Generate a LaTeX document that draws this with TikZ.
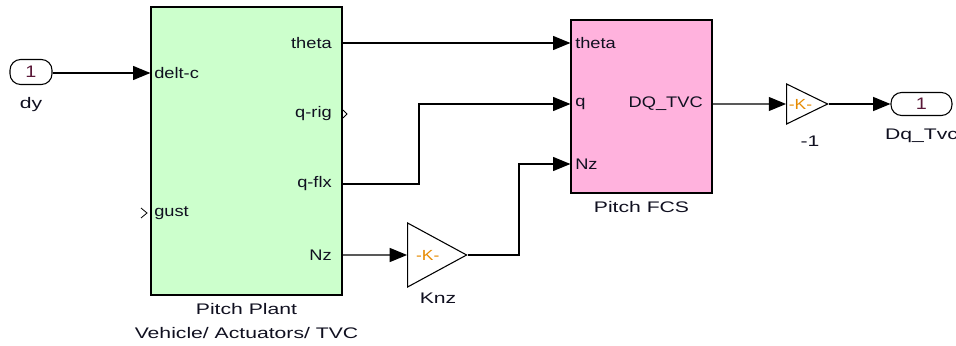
\documentclass[tikz,border=0pt]{standalone}
\usepackage{fontspec}
\setmainfont{Liberation Sans}
\newfontfamily\portfont[FakeStretch=1.19]{Liberation Sans}
\newfontfamily\namefont[FakeStretch=1.38]{Liberation Sans}
\usetikzlibrary{arrows.meta,shapes.geometric}
\definecolor{plantgreen}{HTML}{CCFFCC}
\definecolor{fcspink}{HTML}{FFB2DD}
\definecolor{gainorange}{HTML}{E68A00}
\definecolor{iored}{HTML}{5A1838}
\definecolor{txt}{HTML}{101020}
\tikzset{
  blk/.style={draw, line width=0.9pt, inner sep=0pt},
  io/.style={draw, line width=0.8pt, rounded corners=8pt, inner sep=0pt,
    font=\portfont\fontsize{12.5}{14}\selectfont, text=iored},
  gain/.style={draw, isosceles triangle, isosceles triangle stretches,
    shape border rotate=0, line width=0.8pt, inner sep=0pt,
    font=\portfont\fontsize{11}{13}\selectfont, text=gainorange},
  plabel/.style={font=\portfont\fontsize{11.5}{13}\selectfont, inner sep=0pt, text=txt},
  bname/.style={font=\namefont\fontsize{11.5}{13}\selectfont, inner sep=0pt, text=txt},
  wire/.style={line width=0.9pt, -{Triangle[length=13pt,width=10.5pt]}},
  openport/.style={line width=0.6pt},
}
\begin{document}
\begin{tikzpicture}[x=0.75pt, y=-0.75pt]
    \useasboundingbox (0,0) rectangle (956,346);
    % blocks
    \node[blk, fill=plantgreen, minimum width=143.25pt, minimum height=216pt] (plant) at (246.5,151) {};
    \node[blk, fill=fcspink, minimum width=105.75pt, minimum height=129.75pt] (fcs) at (641.5,106.5) {};
    \node[io, minimum width=31.5pt, minimum height=18.75pt] (dy) at (31,72) {1};
    \node[io, minimum width=45.75pt, minimum height=17.25pt] (dqout) at (921.5,104) {1};
    \node[gain, minimum width=48pt, minimum height=44.25pt, anchor=apex] (knz) at (468,255) {-K-};
    \node[gain, minimum width=30pt, minimum height=30.75pt, anchor=apex] (neg) at (829,104) {-K-};
    % port labels
    \node[plabel, anchor=west] (plDelt) at (154,73) {delt-c};
    \node[plabel, anchor=west] (plGust) at (154,213) {gust};
    \node[plabel, anchor=east] (plTheta) at (332,43) {theta};
    \node[plabel, anchor=east] (plQrig) at (332,114) {q-rig};
    \node[plabel, anchor=east] (plQflx) at (332,184) {q-flx};
    \node[plabel, anchor=east] (plNz) at (332,255) {Nz};
    \node[plabel, anchor=west] (fcsTheta) at (575,43) {theta};
    \node[plabel, anchor=west] (fcsQ) at (575,104) {q};
    \node[plabel, anchor=west] (fcsNz) at (575,164) {Nz};
    \node[plabel, anchor=east] (fcsDq) at (703,104) {DQ\_TVC};
    % block names
    \node[bname] (plantName) at (246.5,309) {Pitch Plant};
    \node[bname] (plantSub) at (246.5,333) {Vehicle/ Actuators/ TVC};
    \node[bname] (fcsName) at (641.5,207) {Pitch FCS};
    \node[bname] (dyName) at (31,105) {dy};
    \node[bname] (dqName) at (921.5,136) {Dq\_Tvc};
    \node[bname] (knzName) at (438,298) {Knz};
    \node[bname] (negName) at (810,141) {-1};
    % wires
    \coordinate (jogQ) at (419,0);
    \coordinate (jogN) at (519,0);
    \draw[wire] (dy.east |- plDelt) -- (plant.west |- plDelt);
    \draw[wire] (plant.east |- plTheta) -- (fcs.west |- fcsTheta);
    \draw[wire] (plant.east |- plQflx) -| (jogQ |- fcsQ) -- (fcs.west |- fcsQ);
    \draw[wire] (plant.east |- plNz) -- (knz.west);
    \draw[wire] (knz.apex) -| (jogN |- fcsNz) -- (fcs.west |- fcsNz);
    \draw[wire] (fcs.east |- fcsDq) -- (neg.west);
    \draw[wire] (neg.apex) -- (dqout.west);
    % unconnected ports
    \draw[openport] (343,110) -- (347,114) -- (343,118);
    \draw[openport] (141,208) -- (147,213) -- (141,218);
\end{tikzpicture}
\end{document}
